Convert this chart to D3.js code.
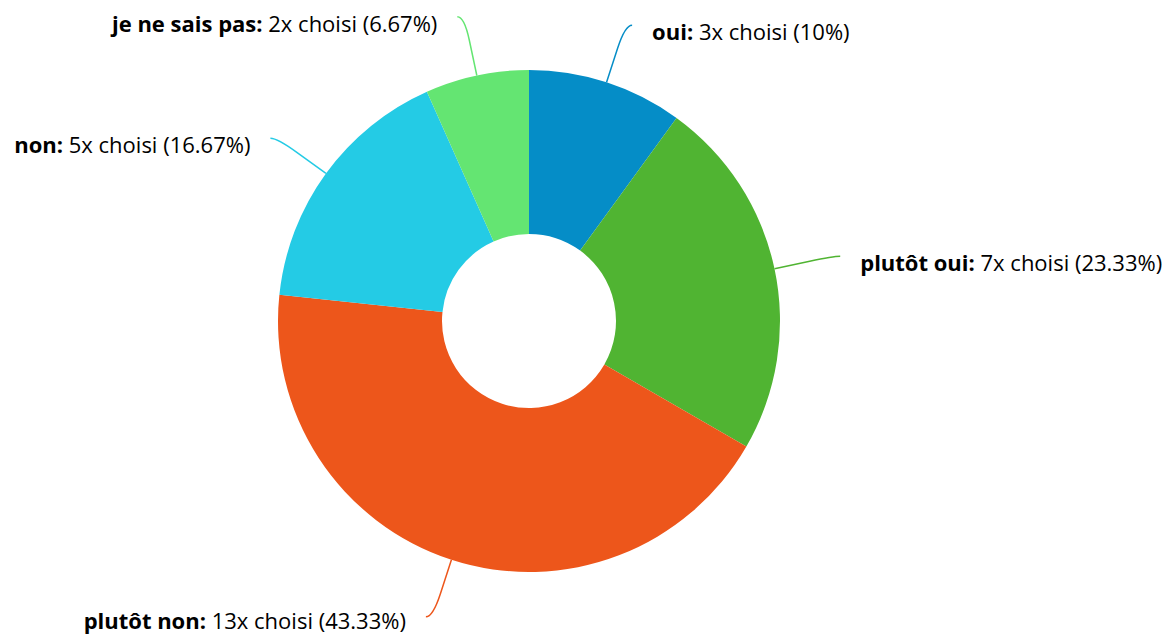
<!DOCTYPE html>
<html>
<head>
<meta charset="utf-8">
<script src="https://cdn.jsdelivr.net/npm/d3@7"></script>
<style>
  body { margin: 0; background: #fff; }
  svg { display: block; font-family: "Open Sans", "Noto Sans", sans-serif; }
</style>
</head>
<body>
<svg width="1169" height="635"></svg>
<script>
var categories = ["oui", "plutôt oui", "plutôt non", "non", "je ne sais pas"];
var counts = [3, 7, 13, 5, 2];
var percents = ["10%", "23.33%", "43.33%", "16.67%", "6.67%"];
var colors = ["#058DC7", "#50B432", "#ED561B", "#24CBE5", "#64E572"];

var svg = d3.select("svg"),
    cx = 529, cy = 321,
    outerR = 251, innerR = 87;

var data = categories.map(function(c, i) {
  return { name: c, count: counts[i], pct: percents[i], color: colors[i] };
});

var pie = d3.pie().sort(null).value(function(d) { return d.count; });
var arc = d3.arc().innerRadius(innerR).outerRadius(outerR);
var arcs = pie(data);

var g = svg.append("g").attr("transform", "translate(" + cx + "," + cy + ")");

g.selectAll("path.slice")
  .data(arcs)
  .enter().append("path")
  .attr("class", "slice")
  .attr("d", arc)
  .attr("fill", function(d) { return d.data.color; });

// point at radius r along the slice's middle angle
function polar(a, r) {
  return [Math.sin(a) * r, -Math.cos(a) * r];
}

arcs.forEach(function(d) {
  var a = (d.startAngle + d.endAngle) / 2,
      side = Math.sin(a) >= 0 ? 1 : -1,
      p0 = polar(a, outerR),
      p1 = polar(a, outerR + 36),
      p2 = polar(a, outerR + 60),
      end = [p2[0] + side * 7, p2[1]];

  g.append("path")
    .attr("d", "M" + p0 + "L" + p1 + "Q" + p2 + " " + end)
    .attr("fill", "none")
    .attr("stroke", d.data.color)
    .attr("stroke-width", 1.5);

  // keep the bottom label inside the frame
  var base = Math.min(end[1] + 15, 635 - cy - 6);

  var t = g.append("text")
    .attr("x", end[0] + side * 20)
    .attr("y", base)
    .attr("text-anchor", side > 0 ? "start" : "end")
    .attr("font-size", 22)
    .attr("fill", "#000");
  t.append("tspan").attr("font-weight", "bold").text(d.data.name + ":");
  t.append("tspan").text(" " + d.data.count + "x choisi (" + d.data.pct + ")");
});
</script>
</body>
</html>
